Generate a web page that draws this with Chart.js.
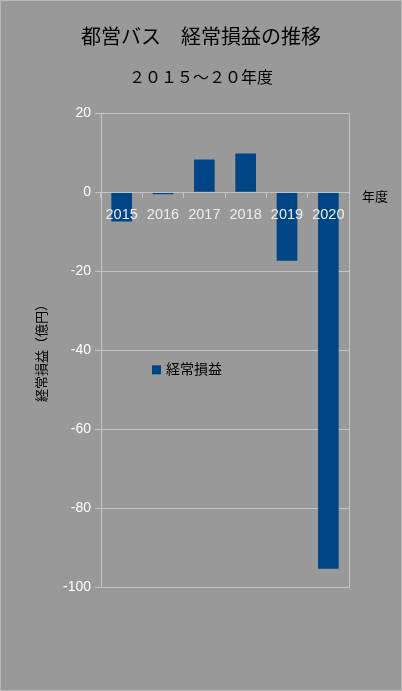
<!DOCTYPE html>
<html>
<head>
<meta charset="utf-8">
<script src="https://cdn.jsdelivr.net/npm/chart.js@4/dist/chart.umd.min.js"></script>
<style>
  html, body { margin: 0; padding: 0; background: #999999; }
  #wrap { width: 402px; height: 691px; position: relative; }
</style>
</head>
<body>
<div id="wrap"><canvas id="c" width="402" height="691"></canvas></div>
<script>
const titleText = '都営バス　経常損益の推移';
const subtitleText = '２０１５～２０年度';
const years = ['2015', '2016', '2017', '2018', '2019', '2020'];
const seriesName = '経常損益';
const profit = [-7.4, -0.5, 8.3, 9.8, -17.4, -95.4];
const yMin = -100, yMax = 20, yStep = 20;
const yTitle = '経常損益（億円）';
const xTitle = '年度';

const FONT = "'Liberation Sans', 'Noto Sans CJK JP', sans-serif";
const GRID = '#c4c4c4';
const BAR = '#004586';

const bgPlugin = {
  id: 'bg',
  beforeDraw(chart) {
    const ctx = chart.ctx;
    ctx.save();
    ctx.fillStyle = '#999999';
    ctx.fillRect(0, 0, chart.width, chart.height);
    ctx.strokeStyle = '#b8b8b8';
    ctx.lineWidth = 1;
    ctx.strokeRect(0.5, 0.5, chart.width - 1, chart.height - 1);
    ctx.restore();
  }
};

const extrasPlugin = {
  id: 'extras',
  afterDraw(chart) {
    const ctx = chart.ctx;
    const ca = chart.chartArea;
    const ys = chart.scales.y;
    ctx.save();
    ctx.fillStyle = '#000000';
    ctx.font = '13px ' + FONT;
    ctx.textAlign = 'left';
    ctx.textBaseline = 'middle';
    ctx.fillText(xTitle, ca.right + 13, ys.getPixelForValue(0) + 5);
    const ds = chart.data.datasets[0];
    const ly = ys.getPixelForValue(-45);
    const lx = ca.left + 51;
    ctx.fillStyle = ds.backgroundColor;
    ctx.fillRect(lx, ly - 4.5, 9, 9);
    ctx.fillStyle = '#000000';
    ctx.font = '14px ' + FONT;
    ctx.fillText(ds.label, lx + 14, ly);
    ctx.restore();
  }
};

new Chart(document.getElementById('c'), {
  type: 'bar',
  data: {
    labels: years,
    datasets: [{
      label: seriesName,
      data: profit,
      backgroundColor: BAR,
      borderWidth: 0,
      barPercentage: 0.5,
      categoryPercentage: 1.0
    }]
  },
  plugins: [bgPlugin, extrasPlugin],
  options: {
    responsive: false,
    animation: false,
    devicePixelRatio: 1,
    layout: { padding: { left: 22, right: 22, top: 0, bottom: 104 } },
    plugins: {
      legend: { display: false },
      tooltip: { enabled: false },
      title: {
        display: true,
        text: titleText,
        color: '#000000',
        font: { family: FONT, size: 20, weight: 'normal' },
        padding: { top: 26, bottom: 19 }
      },
      subtitle: {
        display: true,
        text: subtitleText,
        color: '#000000',
        font: { family: FONT, size: 16, weight: 'normal' },
        padding: { top: 0, bottom: 25 }
      }
    },
    scales: {
      x: {
        position: { y: 0 },
        grid: { display: true, drawOnChartArea: false, drawTicks: true, tickLength: 5, color: GRID, offset: true },
        border: { display: true, color: GRID, z: 1 },
        ticks: { color: '#eeeeee', font: { family: FONT, size: 14.5 }, padding: 9, maxRotation: 0, z: 2 }
      },
      y: {
        position: 'left',
        min: yMin,
        max: yMax,
        grid: { color: GRID, drawTicks: true, tickLength: 6 },
        border: { display: true, color: GRID },
        ticks: { stepSize: yStep, color: '#ffffff', font: { family: FONT, size: 14 }, padding: 4 },
        title: {
          display: true,
          text: yTitle,
          color: '#000000',
          font: { family: FONT, size: 13 },
          padding: { top: 13, bottom: 9 }
        },
        afterFit(scale) { scale.width = 79; }
      },
      y2: {
        position: 'right',
        min: yMin,
        max: yMax,
        grid: { display: false, drawTicks: false },
        border: { display: true, color: GRID },
        ticks: { display: false },
        afterFit(scale) { scale.width = 31; }
      }
    }
  }
});
</script>
</body>
</html>
